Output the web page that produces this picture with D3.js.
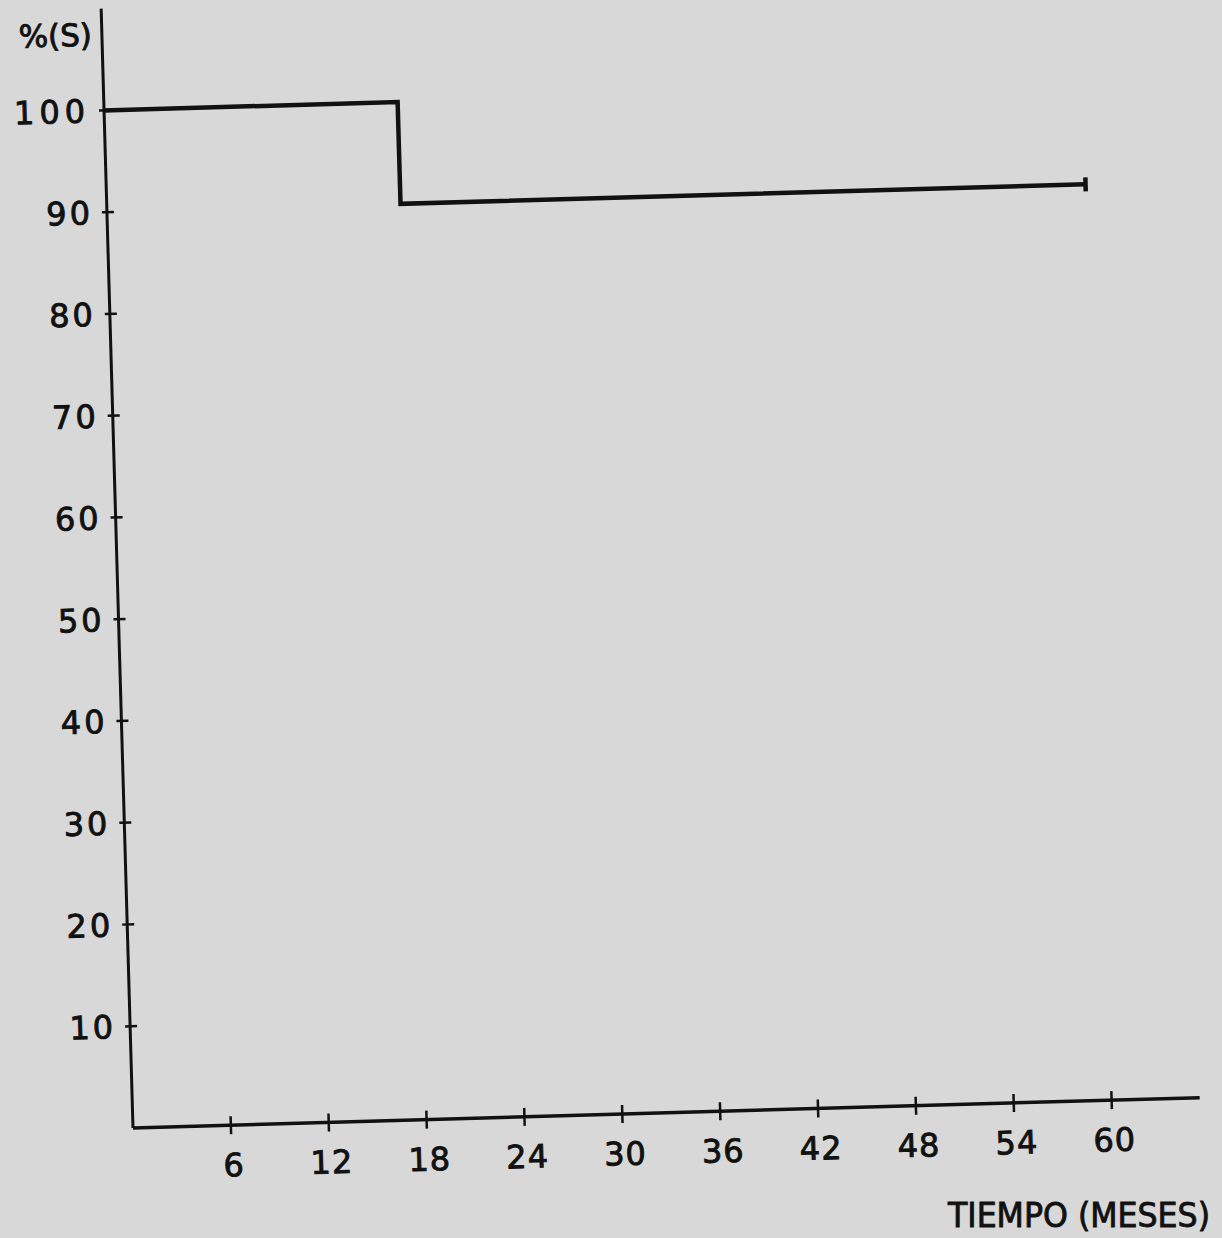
<!DOCTYPE html>
<html>
<head>
<meta charset="utf-8">
<script src="https://cdn.jsdelivr.net/npm/d3@7"></script>
<style>
  html, body { margin: 0; padding: 0; background: #d8d8d8; }
  svg { display: block; }
  text { font-family: "DejaVu Sans", sans-serif; fill: #111; stroke: #111; stroke-width: 0.9; }
</style>
</head>
<body>
<div id="viz"></div>
<script>
// survival curve (Kaplan-Meier style, step after)
let months = [0, 18, 60];
let survival = [100, 90, 90];
let censored = [60];

let xTicks = [6, 12, 18, 24, 30, 36, 42, 48, 54, 60];
let yTicks = [10, 20, 30, 40, 50, 60, 70, 80, 90, 100];

let yLabel = "%(S)";
let xLabel = "TIEMPO (MESES)";

let width = 1222, height = 1238;

// scanned page is slightly tilted, so draw in a rotated frame
let originX = 133, originY = 1128, tilt = -1.63;

let x = d3.scaleLinear().domain([0, 60]).range([0, 979]);
let y = d3.scaleLinear().domain([0, 100]).range([0, -1018]);

let svg = d3.select("#viz")
  .append("svg")
    .attr("width", width)
    .attr("height", height);

svg.append("rect")
  .attr("width", width)
  .attr("height", height)
  .attr("fill", "#d8d8d8");

let g = svg.append("g")
  .attr("transform", "translate(" + originX + "," + originY + ") rotate(" + tilt + ")");

// axes
g.append("line")
  .attr("x1", 0).attr("y1", 0)
  .attr("x2", 0).attr("y2", y(110))
  .attr("stroke", "#111").attr("stroke-width", 3);

g.append("line")
  .attr("x1", 0).attr("y1", 0)
  .attr("x2", x(65.4)).attr("y2", 0)
  .attr("stroke", "#111").attr("stroke-width", 3.5);

// y ticks
g.selectAll(".ytick")
  .data(yTicks)
  .enter()
  .append("line")
    .attr("class", "ytick")
    .attr("x1", -5).attr("x2", 7)
    .attr("y1", d => y(d)).attr("y2", d => y(d))
    .attr("stroke", "#111").attr("stroke-width", 2.5);

g.selectAll(".ylab")
  .data(yTicks)
  .enter()
  .append("text")
    .attr("class", "ylab")
    .attr("x", -14)
    .attr("y", d => y(d))
    .attr("dy", "0.36em")
    .attr("text-anchor", "end")
    .attr("font-size", 32)
    .attr("letter-spacing", d => d == 100 ? 5 : 3)
    .text(d => d);

// x ticks
g.selectAll(".xtick")
  .data(xTicks)
  .enter()
  .append("line")
    .attr("class", "xtick")
    .attr("x1", d => x(d)).attr("x2", d => x(d))
    .attr("y1", -9).attr("y2", 9)
    .attr("stroke", "#111").attr("stroke-width", 2.5);

g.selectAll(".xlab")
  .data(xTicks)
  .enter()
  .append("text")
    .attr("class", "xlab")
    .attr("x", d => x(d) + 2)
    .attr("y", 51)
    .attr("text-anchor", "middle")
    .attr("font-size", 32)
    .attr("letter-spacing", 1)
    .text(d => d);

// axis titles
g.append("text")
  .attr("x", -10)
  .attr("y", y(107.5))
  .attr("dy", "0.36em")
  .attr("text-anchor", "end")
  .attr("font-size", 31)
  .text(yLabel);

svg.append("text")
  .attr("x", 1210)
  .attr("y", 1227)
  .attr("text-anchor", "end")
  .attr("font-size", 33)
  .attr("textLength", 262)
  .attr("lengthAdjust", "spacingAndGlyphs")
  .text(xLabel);

// survival line
let pts = months.map((m, i) => [m, survival[i]]);
let line = d3.line()
  .x(d => x(d[0]))
  .y(d => y(d[1]))
  .curve(d3.curveStepAfter);

g.append("path")
  .datum(pts)
  .attr("d", line)
  .attr("fill", "none")
  .attr("stroke", "#111")
  .attr("stroke-width", 4.5);

// censor mark at end of follow-up
g.selectAll(".cens")
  .data(censored)
  .enter()
  .append("line")
    .attr("class", "cens")
    .attr("x1", d => x(d)).attr("x2", d => x(d))
    .attr("y1", d => y(90) - 7).attr("y2", d => y(90) + 7)
    .attr("stroke", "#111").attr("stroke-width", 4.5);
</script>
</body>
</html>
